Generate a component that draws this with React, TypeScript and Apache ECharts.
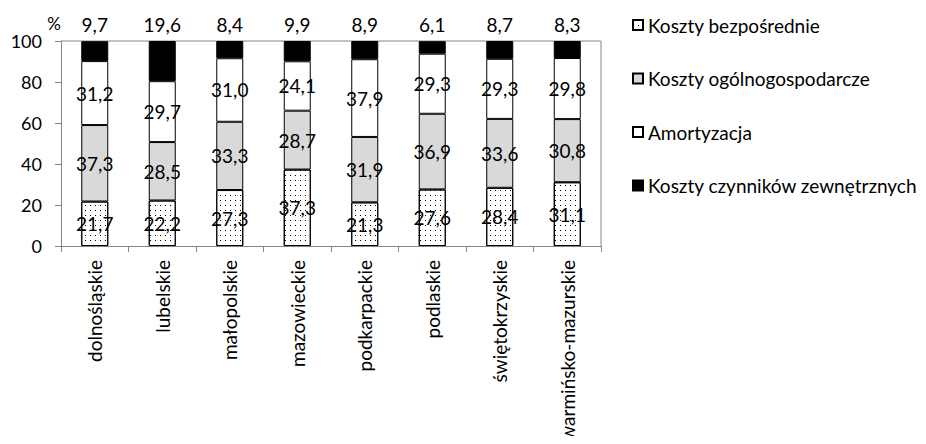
import React, { useEffect, useRef } from "react";
import * as echarts from "echarts";

const categories = [
  "dolnośląskie",
  "lubelskie",
  "małopolskie",
  "mazowieckie",
  "podkarpackie",
  "podlaskie",
  "świętokrzyskie",
  "warmińsko-mazurskie",
];
const kosztyBezposrednie = [21.7, 22.2, 27.3, 37.3, 21.3, 27.6, 28.4, 31.1];
const kosztyOgolnogospodarcze = [37.3, 28.5, 33.3, 28.7, 31.9, 36.9, 33.6, 30.8];
const amortyzacja = [31.2, 29.7, 31.0, 24.1, 37.9, 29.3, 29.3, 29.8];
const kosztyCzynnikow = [9.7, 19.6, 8.4, 9.9, 8.9, 6.1, 8.7, 8.3];
const seriesNames = [
  "Koszty bezpośrednie",
  "Koszty ogólnogospodarcze",
  "Amortyzacja",
  "Koszty czynników zewnętrznych",
];
const yTicks = { min: 0, max: 100, interval: 20 };

const FONT = "Lato";
const fmt = (v: number) => v.toFixed(1).replace(".", ",");

export default function App() {
  const ref = useRef<HTMLDivElement>(null);
  useEffect(() => {
    if (!ref.current) return;
    const chart = echarts.init(ref.current, null, { renderer: "svg" });
    const labelInside = {
      show: true,
      position: "inside" as const,
      color: "#000",
      fontFamily: FONT,
      fontSize: 19,
      textBorderWidth: 0,
      formatter: (p: any) => fmt(p.value),
    };
    const border = { borderColor: "#000", borderWidth: 1 };
    const dots = {
      symbol: "rect",
      symbolSize: 1,
      color: "#000",
      dashArrayX: [1, 4],
      dashArrayY: [1, 4],
    };
    chart.setOption({
      animation: false,
      textStyle: { fontFamily: FONT },
      grid: { left: 61, right: 325, top: 41, bottom: 198 },
      legend: {
        orient: "vertical",
        left: 632,
        top: 15,
        padding: 0,
        itemWidth: 10,
        itemHeight: 10,
        itemGap: 33.5,
        icon: "rect",
        textStyle: { fontFamily: FONT, fontSize: 19, color: "#000", lineHeight: 20 },
        data: seriesNames,
      },
      xAxis: {
        type: "category",
        data: categories,
        axisLine: { lineStyle: { color: "#868686" } },
        axisTick: { show: true, length: 6, lineStyle: { color: "#868686" } },
        axisLabel: {
          rotate: 90,
          interval: 0,
          margin: 14,
          color: "#000",
          fontFamily: FONT,
          fontSize: 19,
        },
      },
      yAxis: {
        type: "value",
        min: yTicks.min,
        max: yTicks.max,
        interval: yTicks.interval,
        name: "%",
        nameLocation: "end",
        nameGap: 7,
        nameTextStyle: { align: "right", color: "#000", fontFamily: FONT, fontSize: 17 },
        axisLine: { show: true, lineStyle: { color: "#868686" } },
        axisTick: { show: true, length: 6, lineStyle: { color: "#868686" } },
        splitLine: { show: false },
        axisLabel: { color: "#000", fontFamily: FONT, fontSize: 18, margin: 19 },
      },
      series: [
        {
          name: seriesNames[0],
          type: "bar",
          stack: "total",
          barWidth: "40%",
          data: kosztyBezposrednie,
          itemStyle: { color: "#fff", ...border, decal: dots },
          label: labelInside,
        },
        {
          name: seriesNames[1],
          type: "bar",
          stack: "total",
          data: kosztyOgolnogospodarcze,
          itemStyle: { color: "#d9d9d9", ...border },
          label: labelInside,
        },
        {
          name: seriesNames[2],
          type: "bar",
          stack: "total",
          data: amortyzacja,
          itemStyle: { color: "#fff", ...border },
          label: labelInside,
        },
        {
          name: seriesNames[3],
          type: "bar",
          stack: "total",
          data: kosztyCzynnikow,
          itemStyle: { color: "#000", ...border },
          label: {
            show: true,
            position: "top",
            distance: 7,
            color: "#000",
            fontFamily: FONT,
            fontSize: 19,
            formatter: (p: any) => fmt(p.value),
          },
        },
      ],
      graphic: [
        {
          type: "line",
          shape: { x1: 61, y1: 41, x2: 601, y2: 41 },
          style: { stroke: "#868686", lineWidth: 1 },
          z: 0,
        },
        {
          type: "line",
          shape: { x1: 601, y1: 41, x2: 601, y2: 246 },
          style: { stroke: "#868686", lineWidth: 1 },
          z: 0,
        },
      ],
    });
    return () => chart.dispose();
  }, []);
  return <div ref={ref} style={{ width: 926, height: 444, margin: -8 }} />;
}
